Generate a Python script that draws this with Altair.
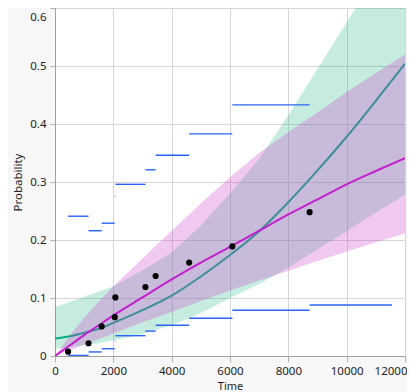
import altair as alt
import pandas as pd

# ---- data ----
t_grid = [0, 500, 1000, 1500, 2000, 3000, 4000, 5000, 6000, 7000, 8000, 9000, 10000, 11000, 12000]
teal_fit = [0.030, 0.034, 0.040, 0.047, 0.057, 0.079, 0.104, 0.137, 0.174, 0.215, 0.265, 0.320, 0.378, 0.440, 0.504]
teal_lo = [0.012, 0.015, 0.018, 0.022, 0.027, 0.038, 0.053, 0.074, 0.100, 0.124, 0.152, 0.184, 0.215, 0.247, 0.278]
teal_hi = [0.084, 0.093, 0.102, 0.111, 0.120, 0.148, 0.178, 0.225, 0.280, 0.340, 0.415, 0.495, 0.575, 0.655, 0.735]
mag_fit = [0.000, 0.018, 0.036, 0.053, 0.070, 0.101, 0.132, 0.161, 0.188, 0.216, 0.244, 0.270, 0.296, 0.319, 0.341]
mag_lo = [0.000, 0.010, 0.020, 0.029, 0.039, 0.058, 0.076, 0.095, 0.113, 0.130, 0.147, 0.164, 0.180, 0.196, 0.211]
mag_hi = [0.000, 0.035, 0.066, 0.094, 0.120, 0.168, 0.216, 0.263, 0.308, 0.350, 0.386, 0.420, 0.455, 0.488, 0.520]

pt_time = [450, 1150, 1600, 2050, 2070, 3100, 3450, 4600, 6080, 8730]
pt_prob = [0.0075, 0.022, 0.051, 0.067, 0.101, 0.119, 0.138, 0.161, 0.189, 0.248]

seg_start = [450, 1150, 1600, 2050, 2070, 3100, 3450, 4600, 6080, 8730]
seg_end = [1150, 1600, 2050, 2070, 3100, 3450, 4600, 6080, 8730, 11550]
seg_upper = [0.241, 0.216, 0.229, 0.275, 0.296, 0.321, 0.346, 0.383, 0.433, None]
seg_lower = [0.001, 0.007, 0.0125, 0.026, 0.035, 0.043, 0.053, 0.065, 0.079, 0.088]

x_ticks = [0, 2000, 4000, 6000, 8000, 10000, 12000]
y_ticks = [0, 0.1, 0.2, 0.3, 0.4, 0.5, 0.6]

# ---- tables ----
curves = pd.DataFrame({"t": t_grid, "teal": teal_fit, "tlo": teal_lo, "thi": teal_hi,
                       "mag": mag_fit, "mlo": mag_lo, "mhi": mag_hi})
points = pd.DataFrame({"t": pt_time, "p": pt_prob})
seg_rows = []
for s, e, u, l in zip(seg_start, seg_end, seg_upper, seg_lower):
    if u is not None:
        seg_rows.append({"s": s, "e": e, "v": u})
    if l is not None:
        seg_rows.append({"s": s, "e": e, "v": l})
segs = pd.DataFrame(seg_rows)

FONT = "Noto Sans"
TXT = "#1e1e1e"
xs = alt.Scale(domain=[0, 12000], nice=False, zero=False)
ys = alt.Scale(domain=[0, 0.6], nice=False, zero=False)

xaxis = alt.Axis(values=x_ticks, format="d", title="Time", labelFlush=False,
                 labelAlign={"condition": {"test": "datum.value == 12000", "value": "right"}, "value": "center"},
                 labelOffset={"condition": {"test": "datum.value == 12000", "value": 2}, "value": 0},
                 tickSize=6, labelPadding=3, titlePadding=4, titleFontSize=11)
yaxis = alt.Axis(values=y_ticks, format=".1~f", title="Probability",
                 labelBaseline={"condition": {"test": "datum.value > 0.55", "value": "top"}, "value": "middle"},
                 labelOffset={"condition": {"test": "datum.value > 0.55", "value": 3}, "value": 0},
                 tickSize=5, labelPadding=4, titlePadding=6)

def X(f):
    return alt.X(f, type="quantitative", scale=xs, axis=xaxis, title="Time")

def Y(f):
    return alt.Y(f, type="quantitative", scale=ys, axis=yaxis, title="Probability")

teal_band = alt.Chart(curves).mark_area(color="#1bb383", opacity=0.25, clip=True).encode(
    x=X("t"), y=Y("tlo"), y2="thi")
teal_line = alt.Chart(curves).mark_line(color="#00ad84", strokeWidth=2, clip=True,
                                        interpolate="monotone").encode(x=X("t"), y=Y("teal"))
mag_band = alt.Chart(curves).mark_area(color="#cd48cd", opacity=0.3, clip=True).encode(
    x=X("t"), y=Y("mlo"), y2="mhi")
mag_line = alt.Chart(curves).mark_line(color="#c31fce", strokeWidth=2, clip=True,
                                       interpolate="monotone").encode(x=X("t"), y=Y("mag"))
seg_layer = alt.Chart(segs).mark_rule(color="#2a64f4", strokeWidth=1.4, clip=True).encode(
    x=X("s"), x2="e", y=Y("v"))
pt_layer = alt.Chart(points).mark_circle(color="black", size=38, opacity=1).encode(
    x=X("t"), y=Y("p"))

chart = alt.layer(teal_band, teal_line, mag_band, mag_line, seg_layer, pt_layer).properties(
    width=350, height=348,
    padding={"left": 47, "top": 0, "right": 2, "bottom": 42},
    autosize=alt.AutoSizeParams(type="none"),
    background="#f7f7f7",
).configure_view(
    fill="white", stroke="#a0a0a0", strokeWidth=1
).configure_axis(
    grid=True, gridColor="#d6d6d6", gridWidth=1,
    domainColor="#a0a0a0", tickColor="#b0b0b0",
    labelFont=FONT, labelFontSize=11.5, labelColor=TXT,
    titleFont=FONT, titleFontSize=11.5, titleFontWeight="normal", titleColor=TXT,
)

chart.save("out.html", embed_options={"renderer": "svg", "actions": False})
